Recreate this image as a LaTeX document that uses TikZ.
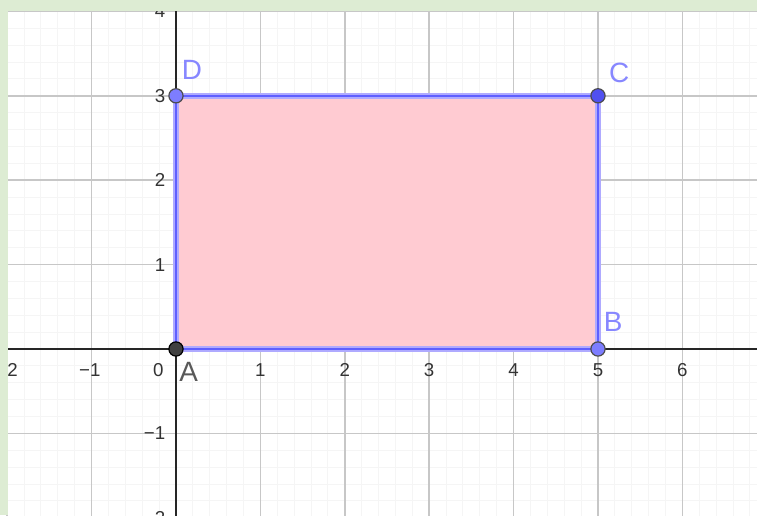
\documentclass[tikz,border=0pt]{standalone}
\usepackage{fontspec}
\setmainfont{Liberation Sans}
\definecolor{rectfill}{RGB}{255,203,210}
\definecolor{edgecol}{RGB}{95,95,255}
\definecolor{edgehalo}{RGB}{175,170,255}
\definecolor{ptcol}{RGB}{125,125,255}
\definecolor{ptdark}{RGB}{80,80,240}
\definecolor{labcol}{RGB}{135,135,255}
\definecolor{numcol}{RGB}{51,51,51}
\definecolor{frame}{RGB}{221,236,211}
\tikzset{
  minorgrid/.style={draw=black!4, line width=0.3pt},
  majorgrid/.style={draw=black!22, line width=0.5pt},
  axis/.style={draw=black!85, line width=0.7pt},
  ticklab/.style={text=numcol, font=\fontsize{6.3}{7}\selectfont, inner sep=0pt},
  ptlab/.style={text=labcol, font=\fontsize{9.4}{11}\selectfont, inner sep=0pt},
  pt/.style={circle, draw=black!70, line width=0.4pt, fill=ptcol, minimum size=4.8pt, inner sep=0pt},
}
\begin{document}
\begin{tikzpicture}
  \useasboundingbox (-2.085,-1.967) rectangle (6.884,4.135);
  \clip (-2.085,-1.967) rectangle (6.884,4.135);
  \fill[white] (-2.085,-1.967) rectangle (6.884,4.135);

  % grid
  \draw[minorgrid] (-3,-3) grid[step=0.2] (8,5);
  \draw[majorgrid] (-3,-3) grid (8,5);

  % rectangle
  \coordinate (A) at (0,0);
  \coordinate (B) at (5,0);
  \coordinate (C) at (5,3);
  \coordinate (D) at (0,3);
  \fill[rectfill] (A) -- (B) -- (C) -- (D) -- cycle;

  % axes
  \draw[axis] (-3,0) -- (8,0);
  \draw[axis] (0,-3) -- (0,5);

  \draw[edgehalo, line width=1.9pt, line join=round] (A) -- (B) -- (C) -- (D) -- cycle;
  \draw[edgecol, line width=0.8pt, line join=round] (A) -- (B) -- (C) -- (D) -- cycle;

  % tick labels
  \foreach \x in {1,2,3,4,5,6}
    \node[ticklab] (x\x) at (\x,-0.25) {\x};
  \node[ticklab] (xm1) at (-1.02,-0.25) {−1};
  \node[ticklab] (xm2) at (-2.0,-0.25) {−2};
  \node[ticklab] (x0) at (-0.21,-0.25) {0};
  \foreach \y in {1,2,3,4}
    \node[ticklab, anchor=east] (y\y) at (-0.12,\y) {\y};
  \node[ticklab, anchor=east] (ym1) at (-0.12,-1) {−1};
  \node[ticklab, anchor=east] (ym2) at (-0.12,-2) {−2};

  % points
  \node[pt] (pA) at (A) [fill=black!75, draw=black] {};
  \node[pt] (pB) at (B) {};
  \node[pt] (pC) at (C) [fill=ptdark] {};
  \node[pt] (pD) at (D) {};

  \node[ptlab, text=black!65] (lA) at (0.15,-0.27) {A};
  \node[ptlab] (lB) at (5.18,0.32) {B};
  \node[ptlab] (lC) at (5.25,3.27) {C};
  \node[ptlab] (lD) at (0.19,3.31) {D};

  % frame
  \fill[frame] (-2.085,-1.967) rectangle (-1.99,4.135);
  \fill[frame] (-2.085,4.005) rectangle (6.884,4.135);
\end{tikzpicture}
\end{document}
